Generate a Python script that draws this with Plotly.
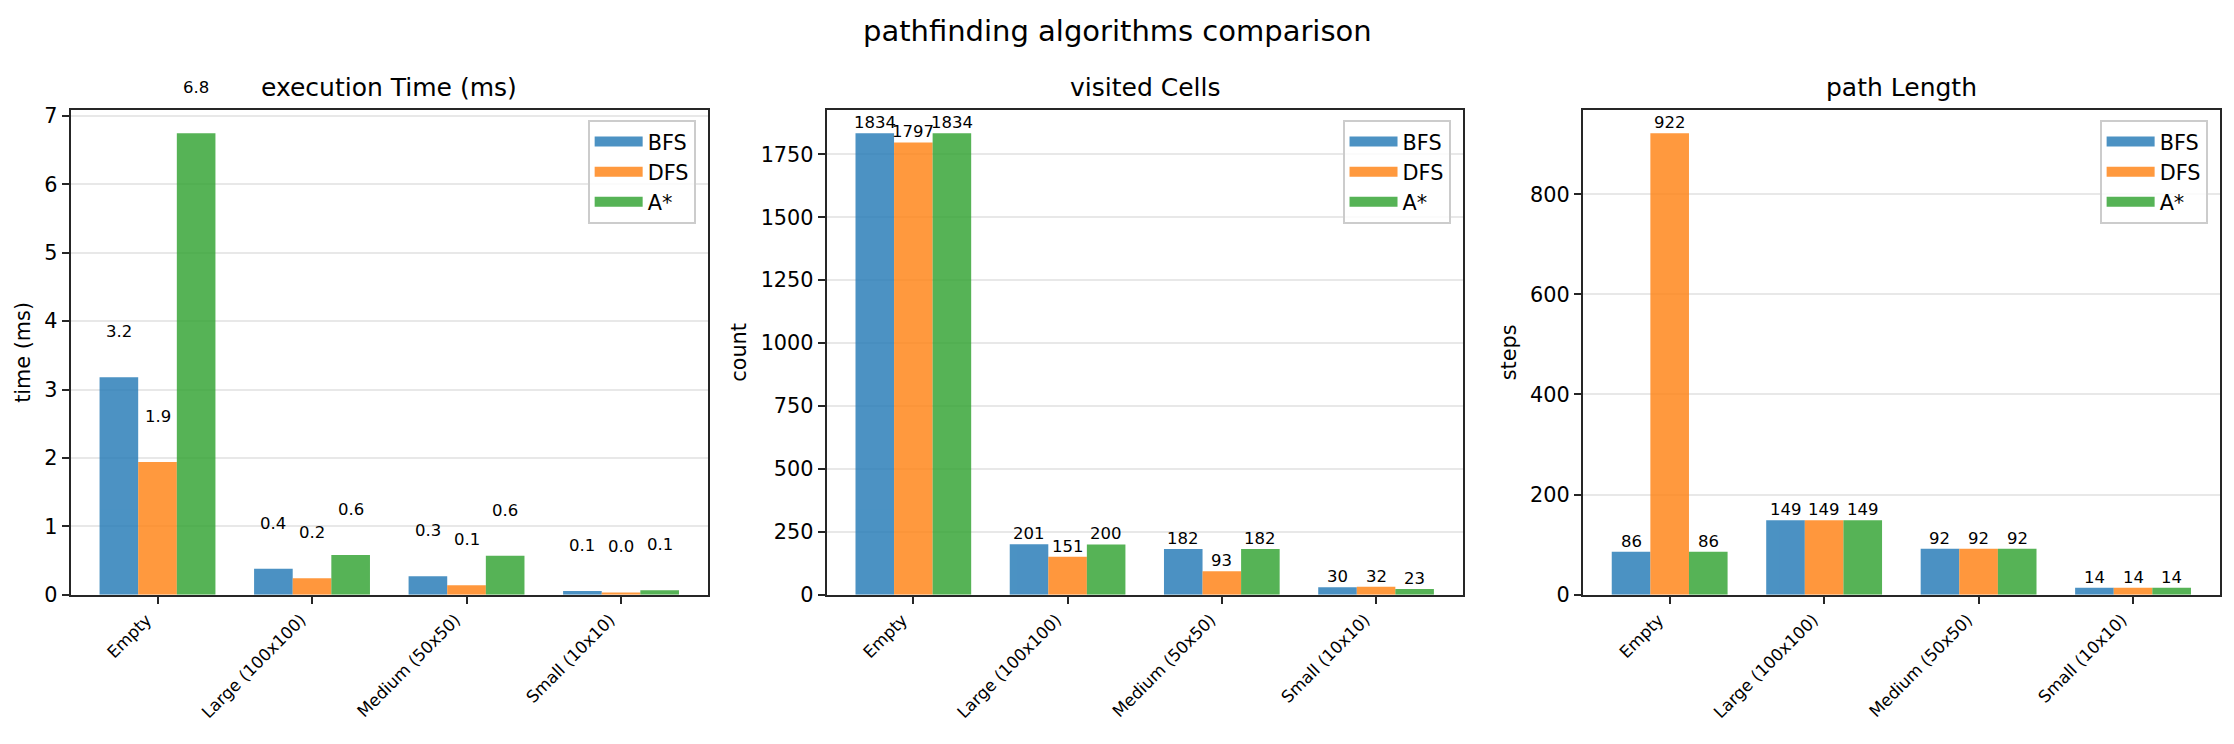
import plotly.graph_objects as go

# data
maps = ["Empty", "Large (100x100)", "Medium (50x50)", "Small (10x10)"]
algorithms = ["BFS", "DFS", "A*"]

time_bfs = [3.18, 0.38, 0.27, 0.055]
time_dfs = [1.94, 0.24, 0.14, 0.034]
time_astar = [6.75, 0.58, 0.57, 0.065]

visited_bfs = [1834, 201, 182, 30]
visited_dfs = [1797, 151, 93, 32]
visited_astar = [1834, 200, 182, 23]

path_bfs = [86, 149, 92, 14]
path_dfs = [922, 149, 92, 14]
path_astar = [86, 149, 92, 14]

colors = ["#1f77b4", "#ff7f0e", "#2ca02c"]
FONT = "DejaVu Sans"
W, H = 2234, 744

panels = [
    dict(title="execution Time (ms)", ylabel="time (ms)", series=[time_bfs, time_dfs, time_astar],
         fmt="{:.1f}", offset=0.5, dtick=1, domain=[0.0316, 0.3169]),
    dict(title="visited Cells", ylabel="count", series=[visited_bfs, visited_dfs, visited_astar],
         fmt="{:.0f}", offset=0, dtick=250, domain=[0.3700, 0.6548]),
    dict(title="path Length", ylabel="steps", series=[path_bfs, path_dfs, path_astar],
         fmt="{:.0f}", offset=0, dtick=200, domain=[0.7085, 0.9937]),
]
ydom = [0.1891, 0.8566]
width = 0.25


def add_panel(fig, n, panel):
    sfx = "" if n == 1 else str(n)
    xa, ya = "x" + sfx, "y" + sfx
    leg = "legend" + sfx
    ymax = max(max(s) for s in panel["series"]) * 1.05
    px_per_unit = (ydom[1] - ydom[0]) * H / ymax

    for k, (name, vals) in enumerate(zip(algorithms, panel["series"])):
        xs = [i + (k - 1) * width for i in range(len(maps))]
        fig.add_trace(go.Bar(x=xs, y=vals, width=width, name=name, xaxis=xa, yaxis=ya,
                             marker=dict(color=colors[k], line=dict(width=0)), opacity=0.8,
                             showlegend=False))
        # value labels above bars (offset given in data units, turned into pixels so
        # labels past the top of the axis are still drawn)
        for x, v in zip(xs, vals):
            fig.add_annotation(x=x, y=v, xref=xa, yref=ya, text=panel["fmt"].format(v),
                               yshift=panel["offset"] * px_per_unit,
                               showarrow=False, xanchor="center", yanchor="bottom", borderpad=0,
                               font=dict(family=FONT, size=16.5, color="black"))
        # legend swatch
        fig.add_trace(go.Scatter(x=[None], y=[None], mode="lines", name=name, xaxis=xa, yaxis=ya,
                                 line=dict(color=colors[k], width=15), opacity=0.8, legend=leg))

    axis_common = dict(showline=True, mirror=True, linecolor="#262626", linewidth=1.7,
                       ticks="outside", ticklen=7, tickwidth=1.7, tickcolor="#262626", zeroline=False)
    fig.layout["xaxis" + sfx] = dict(domain=panel["domain"], anchor=ya, range=[-0.5625, 3.5625],
                                     tickvals=list(range(len(maps))), ticktext=maps, tickangle=-45,
                                     tickfont=dict(family=FONT, size=16.7, color="black"),
                                     ticklabelshift=-11, showgrid=False, **axis_common)
    fig.layout["yaxis" + sfx] = dict(domain=ydom, anchor=xa, range=[0, ymax], dtick=panel["dtick"],
                                     tickfont=dict(family=FONT, size=20.8, color="black"),
                                     showgrid=True, gridcolor="#e8e8e8", gridwidth=1.7,
                                     title=dict(text=panel["ylabel"], standoff=8,
                                                font=dict(family=FONT, size=20.8, color="black")),
                                     **axis_common)
    right = panel["domain"][1]
    fig.layout[leg] = dict(x=right - 12 / W, y=ydom[1] - 10 / H, xanchor="right", yanchor="top",
                           bgcolor="rgba(255,255,255,0.8)", bordercolor="#cccccc", borderwidth=1.7,
                           font=dict(family=FONT, size=20.8, color="black"), itemwidth=48,
                           tracegroupgap=0)
    fig.add_annotation(text=panel["title"], xref="paper", yref="paper",
                       x=sum(panel["domain"]) / 2, y=ydom[1], yshift=6, xanchor="center", yanchor="bottom",
                       showarrow=False, font=dict(family=FONT, size=25, color="black"))


def main():
    fig = go.Figure()
    for n, panel in enumerate(panels, start=1):
        add_panel(fig, n, panel)

    fig.add_annotation(text="pathfinding algorithms comparison", xref="paper", yref="paper",
                       x=0.5, y=1 - 26 / H, xanchor="center", yanchor="middle", showarrow=False,
                       font=dict(family=FONT, size=29, color="black"))
    fig.update_layout(width=W, height=H, margin=dict(l=0, r=0, t=0, b=0),
                      paper_bgcolor="white", plot_bgcolor="white", barmode="overlay",
                      font=dict(family=FONT, color="black"))
    # the page body has a default margin; drop it so the figure sits at the window corner
    fig.write_html("out.html", config={"displayModeBar": False},
                   post_script="document.body.style.margin='0';")


if __name__ == '__main__':
    main()
